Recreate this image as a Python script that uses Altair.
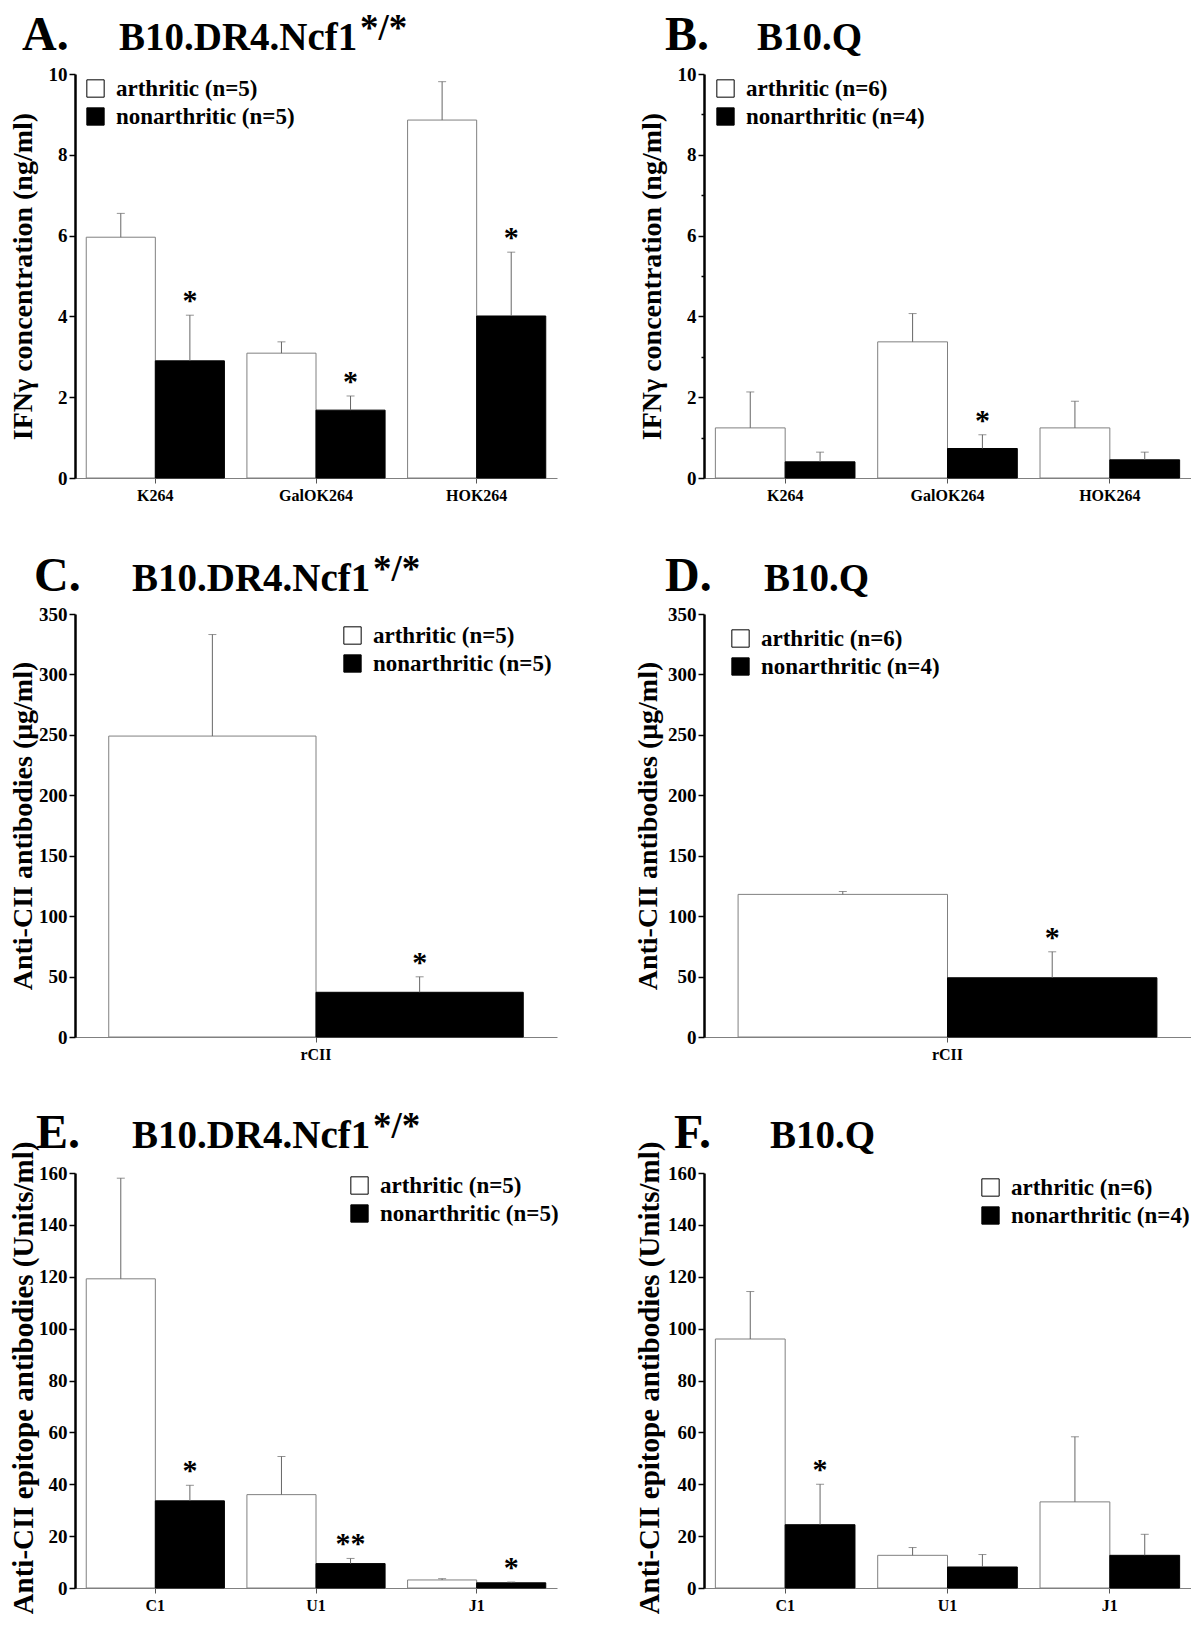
import altair as alt
import pandas as pd

FONT = "Liberation Serif"
GROUP_FMT = ("arthritic (n={})", "nonarthritic (n={})")

# ---------- Panel A : IFNg, B10.DR4.Ncf1 ----------
a_cats = ["K264", "GalOK264", "HOK264"]
a_n = (5, 5)
a_arth = [5.96, 3.09, 8.86]
a_arth_err = [0.59, 0.28, 0.95]
a_non = [2.90, 1.68, 4.01]
a_non_err = [1.13, 0.35, 1.58]
a_arth_sig = ["", "", ""]
a_non_sig = ["*", "*", "*"]

# ---------- Panel B : IFNg, B10.Q ----------
b_cats = ["K264", "GalOK264", "HOK264"]
b_n = (6, 4)
b_arth = [1.24, 3.37, 1.24]
b_arth_err = [0.89, 0.70, 0.66]
b_non = [0.40, 0.73, 0.45]
b_non_err = [0.24, 0.34, 0.19]
b_arth_sig = ["", "", ""]
b_non_sig = ["", "*", ""]

# ---------- Panel C : anti-CII, B10.DR4.Ncf1 ----------
c_cats = ["rCII"]
c_n = (5, 5)
c_arth = [249.0]
c_arth_err = [84.0]
c_non = [37.0]
c_non_err = [12.8]
c_arth_sig = [""]
c_non_sig = ["*"]

# ---------- Panel D : anti-CII, B10.Q ----------
d_cats = ["rCII"]
d_n = (6, 4)
d_arth = [118.0]
d_arth_err = [2.4]
d_non = [49.0]
d_non_err = [21.5]
d_arth_sig = [""]
d_non_sig = ["*"]

# ---------- Panel E : epitopes, B10.DR4.Ncf1 ----------
e_cats = ["C1", "U1", "J1"]
e_n = (5, 5)
e_arth = [119.2, 36.0, 3.1]
e_arth_err = [38.8, 14.7, 0.5]
e_non = [33.6, 9.4, 2.0]
e_non_err = [6.0, 2.0, 0.3]
e_arth_sig = ["", "", ""]
e_non_sig = ["*", "**", "*"]

# ---------- Panel F : epitopes, B10.Q ----------
f_cats = ["C1", "U1", "J1"]
f_n = (6, 4)
f_arth = [96.0, 12.6, 33.2]
f_arth_err = [18.3, 3.0, 25.1]
f_non = [24.4, 8.1, 12.6]
f_non_err = [15.6, 4.8, 8.1]
f_arth_sig = ["", "", ""]
f_non_sig = ["*", "", ""]

IFN_TITLE = "IFNγ concentration (ng/ml)"
CII_TITLE = "Anti-CII antibodies (μg/ml)"
EPI_TITLE = "Anti-CII epitope antibodies (Units/ml)"

MAIN_FS = 39
SUP_GAP = 241


def panel(cats, n, arth, arth_err, non, non_err, arth_sig, non_sig,
          ymax, major, minor, ytitle, titles, width, height, legend_xy,
          title_dx, title_dy, ytitle_x, ytitle_size=28, ytitle_top=None):
    groups = [GROUP_FMT[0].format(n[0]), GROUP_FMT[1].format(n[1])]
    rows = []
    for i, c in enumerate(cats):
        rows.append(dict(cat=c, group=groups[0], value=arth[i],
                         top=arth[i] + arth_err[i], sig=arth_sig[i]))
        rows.append(dict(cat=c, group=groups[1], value=non[i],
                         top=non[i] + non_err[i], sig=non_sig[i]))
    df = pd.DataFrame(rows)

    nt = int(round(ymax / minor))
    tick_vals = [round(i * minor, 6) for i in range(nt + 1)]
    test = f"abs(datum.value % {major}) < 0.001"
    yaxis_kw = dict(
        values=tick_vals,
        labelExpr=f"{test} ? datum.label : ''",
        tickSize={"condition": {"test": test, "value": 6}, "value": 3},
        tickColor="black", tickWidth=1.5,
        domainColor="black", domainWidth=2.5,
        labelFont=FONT, labelFontSize=19, labelFontWeight="bold",
        labelColor="black", labelPadding=2, labelOverlap=False,
        grid=False,
        title=ytitle, titleFont=FONT, titleFontSize=ytitle_size,
        titleFontWeight="bold", titleColor="black",
        titleX=ytitle_x, titleBaseline="bottom", titleAngle=270,
    )
    if ytitle_top is not None:
        yaxis_kw["titleY"] = ytitle_top
        yaxis_kw["titleAlign"] = "right"
    yaxis = alt.Axis(**yaxis_kw)

    xenc = alt.X("cat:N", sort=cats,
                 scale=alt.Scale(paddingInner=0.14, paddingOuter=0.07),
                 axis=alt.Axis(title=None, labelAngle=0, domainColor="#808080",
                               domainWidth=1, tickColor="#555555", tickSize=5,
                               labelFont=FONT, labelFontSize=16,
                               labelFontWeight="bold", labelColor="black",
                               labelPadding=4))
    xoff = alt.XOffset("group:N", sort=groups, scale=alt.Scale(domain=groups))
    yenc = alt.Y("value:Q", scale=alt.Scale(domain=[0, ymax], nice=False),
                 axis=yaxis)

    base = alt.Chart(df)
    bars = base.mark_bar(strokeWidth=1).encode(
        x=xenc, xOffset=xoff, y=yenc,
        color=alt.Color("group:N",
                        scale=alt.Scale(domain=groups, range=["white", "black"]),
                        legend=alt.Legend(
                            title=None, orient="none",
                            legendX=legend_xy[0], legendY=legend_xy[1],
                            symbolType="square", symbolSize=300,
                            symbolStrokeColor="black", symbolStrokeWidth=1,
                            symbolOpacity=1,
                            labelFont=FONT, labelFontSize=23,
                            labelFontWeight="bold", labelColor="black",
                            labelLimit=400, rowPadding=4, labelOffset=9,
                            padding=0)),
        stroke=alt.condition(alt.datum.group == groups[0],
                             alt.value("#808080"), alt.value("black")),
    )
    err = base.mark_rule(color="#666666", strokeWidth=1).encode(
        x=xenc, xOffset=xoff, y="value:Q", y2="top:Q")
    cap = base.mark_tick(color="#666666", thickness=1, size=8).encode(
        x=xenc, xOffset=xoff, y="top:Q")
    stars = base.mark_text(font=FONT, fontSize=30, fontWeight="bold",
                           baseline="alphabetic", dy=-5, color="black").encode(
        x=xenc, xOffset=xoff, y="top:Q", text="sig:N")

    tdf = pd.DataFrame({"letter": [titles[0]], "main": [titles[1]],
                        "sup": [titles[2]]})
    tb = alt.Chart(tdf)
    t_letter = tb.mark_text(align="left", baseline="alphabetic", font=FONT,
                            fontSize=48, fontWeight="bold", color="black").encode(
        x=alt.value(title_dx[0]), y=alt.value(title_dy), text="letter:N")
    t_main = tb.mark_text(align="left", baseline="alphabetic", font=FONT,
                          fontSize=MAIN_FS, fontWeight="bold", color="black").encode(
        x=alt.value(title_dx[1]), y=alt.value(title_dy), text="main:N")
    layers = [bars, err, cap, stars, t_letter, t_main]
    if titles[2]:
        t_sup = tb.mark_text(align="left", baseline="alphabetic", font=FONT,
                             fontSize=37, fontWeight="bold", color="black").encode(
            x=alt.value(title_dx[1] + SUP_GAP), y=alt.value(title_dy - 10),
            text="sup:N")
        layers.append(t_sup)
    return alt.layer(*layers).properties(width=width, height=height)


LW, RW = 482, 487
H1, H2, H3 = 404, 423, 415

pA = panel(a_cats, a_n, a_arth, a_arth_err, a_non, a_non_err, a_arth_sig, a_non_sig,
           10, 2, 2, IFN_TITLE, ("A.", "B10.DR4.Ncf1", "*/*"), LW, H1, (9, 3),
           (-53, 44), -24, -38)
pB = panel(b_cats, b_n, b_arth, b_arth_err, b_non, b_non_err, b_arth_sig, b_non_sig,
           10, 2, 0.5, IFN_TITLE, ("B.", "B10.Q", ""), RW, H1, (10, 3),
           (-39, 53), -24, -38)
pC = panel(c_cats, c_n, c_arth, c_arth_err, c_non, c_non_err, c_arth_sig, c_non_sig,
           350, 50, 25, CII_TITLE, ("C.", "B10.DR4.Ncf1", "*/*"), LW, H2, (266, 10),
           (-41, 57), -23, -37.5)
pD = panel(d_cats, d_n, d_arth, d_arth_err, d_non, d_non_err, d_arth_sig, d_non_sig,
           350, 50, 25, CII_TITLE, ("D.", "B10.Q", ""), RW, H2, (25, 13),
           (-39, 60), -23, -42)
pE = panel(e_cats, e_n, e_arth, e_arth_err, e_non, e_non_err, e_arth_sig, e_non_sig,
           160, 20, 10, EPI_TITLE, ("E.", "B10.DR4.Ncf1", "*/*"), LW, H3, (273, 1),
           (-39, 57), -25, -37, 29, -32)
pF = panel(f_cats, f_n, f_arth, f_arth_err, f_non, f_non_err, f_arth_sig, f_non_sig,
           160, 20, 10, EPI_TITLE, ("F.", "B10.Q", ""), RW, H3, (275, 3),
           (-30, 66), -25, -40, 29, -32)

RES = dict(x="independent", y="independent", xOffset="independent",
           color="independent")

chart = (alt.concat(pA, pB, pC, pD, pE, pF, columns=2,
                    spacing={"row": 136, "column": 147}, bounds="flush")
         .resolve_scale(**RES).resolve_legend(color="independent")
         .configure_view(stroke=None)
         .properties(padding={"left": 0, "top": 2, "right": 0, "bottom": 0},
                     background="white"))

chart.save("out.html", embed_options={"renderer": "svg", "actions": False})
